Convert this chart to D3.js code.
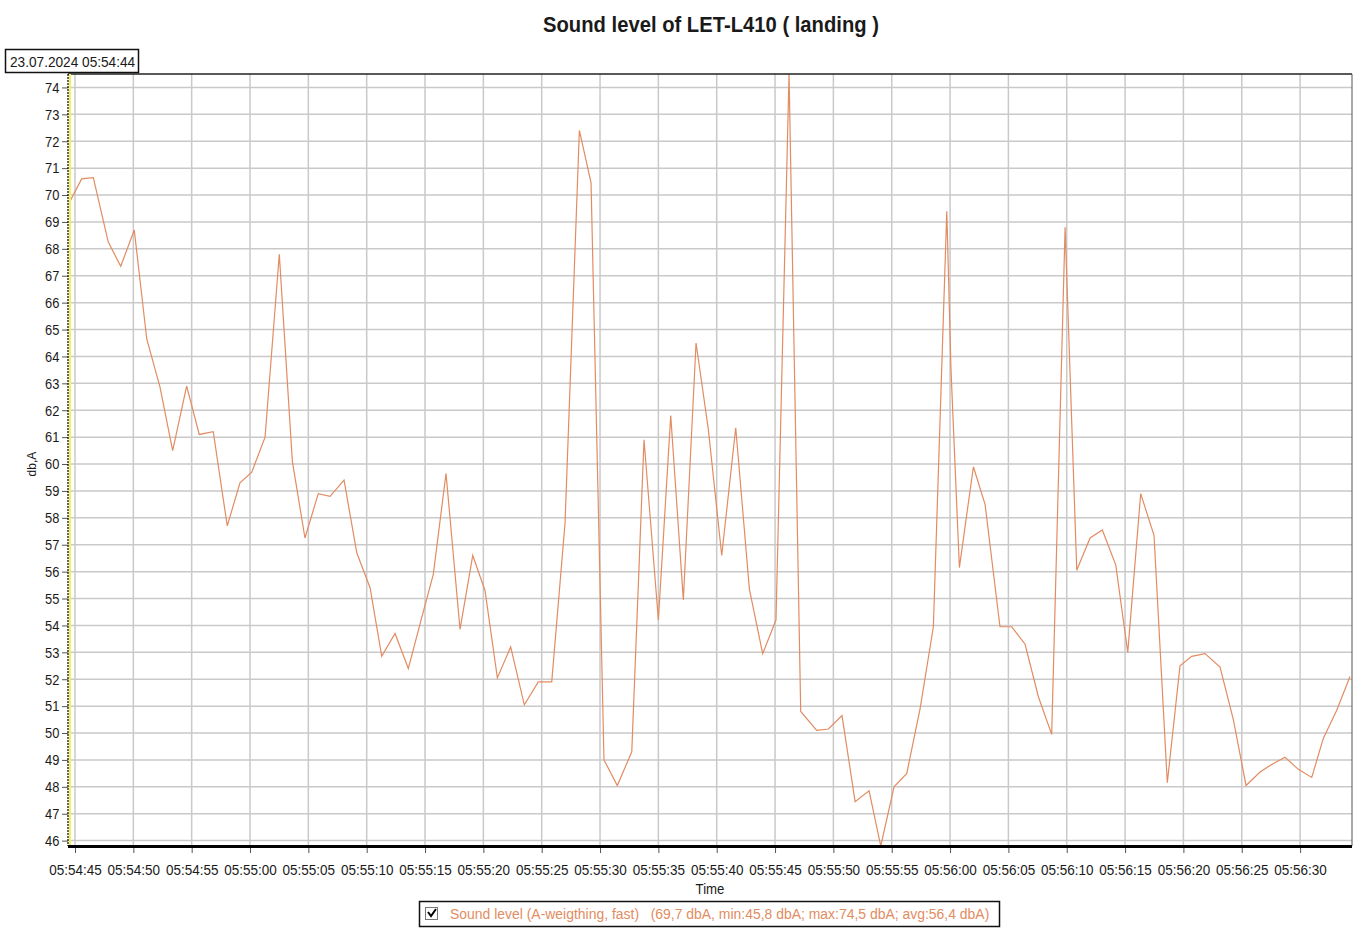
<!DOCTYPE html>
<html>
<head>
<meta charset="utf-8">
<script src="https://cdn.jsdelivr.net/npm/d3@7"></script>
<style>
body { margin: 0; background: #fff; }
text { font-family: "Liberation Sans", Arial, sans-serif; fill: #1a1a1a; }
</style>
</head>
<body>
<script>
//variabili
var width = 1355, height = 929;
var mLeft = 68, mRight = 1352, mTop = 74, mBottom = 846;
var startTime = new Date(2024, 6, 23, 5, 54, 44);

//secondi dopo 05:54:44
var offsets = [0.49, 1.57, 2.57, 3.85, 4.92, 6.08, 7.15, 8.29, 9.37, 10.57,
    11.65, 12.85, 14.05, 15.14, 16.15, 17.29, 18.51, 19.63, 20.71, 21.85,
    22.86, 24.06, 25.15, 26.29, 27.29, 28.43, 29.57, 30.66, 31.71, 32.80,
    34.00, 35.09, 36.14, 37.20, 38.34, 39.51, 40.71, 41.86, 43.00, 44.23,
    45.23, 46.34, 47.48, 48.72, 49.77, 51.00, 52.06, 53.14, 54.23, 55.28,
    56.43, 57.63, 58.80, 59.94, 61.08, 62.20, 63.20, 64.57, 65.57, 66.74,
    67.86, 69.06, 70.06, 71.20, 72.29, 73.43, 74.57, 75.72, 76.08, 76.80,
    78.00, 79.00, 80.28, 81.29, 82.43, 83.57, 84.71, 85.86, 86.86, 88.00,
    89.05, 90.20, 91.23, 92.34, 93.48, 94.62, 95.71, 96.71, 97.85, 99.14,
    100.28, 101.37, 102.57, 103.64, 104.71, 105.85, 107.00, 107.99, 109.14, 110.28];

//livello sonoro dbA
var levels = [69.7, 70.6, 70.65, 68.25, 67.35, 68.7, 64.65, 62.85, 60.5, 62.9,
    61.1, 61.2, 57.7, 59.3, 59.7, 61.0, 67.8, 60.1, 57.25, 58.9,
    58.8, 59.4, 56.7, 55.4, 52.85, 53.7, 52.4, 54.2, 55.9, 59.65,
    53.85, 56.6, 55.3, 52.05, 53.2, 51.05, 51.9, 51.9, 57.8, 72.4,
    70.45, 49.0, 48.05, 49.3, 60.9, 54.2, 61.8, 54.95, 64.5, 61.3,
    56.6, 61.35, 55.35, 52.95, 54.2, 74.5, 50.8, 50.1, 50.15, 50.65,
    47.45, 47.85, 45.8, 48.0, 48.5, 50.9, 53.95, 69.4, 63.5, 56.15,
    59.9, 58.5, 53.95, 53.95, 53.3, 51.35, 49.95, 68.8, 56.05, 57.25,
    57.55, 56.25, 53.0, 58.9, 57.35, 48.15, 52.5, 52.85, 52.95, 52.45,
    50.5, 48.05, 48.55, 48.85, 49.1, 48.65, 48.35, 49.8, 50.85, 52.1];

var yTicks = d3.range(46, 75);
var titleText = "Sound level of LET-L410 ( landing )";
var stampText = "23.07.2024 05:54:44";
var legendText = "Sound level (A-weigthing, fast)   (69,7 dbA, min:45,8 dbA; max:74,5 dbA; avg:56,4 dbA)";

var dati = offsets.map(function (s, i) {
    return { t: new Date(startTime.getTime() + s * 1000), v: levels[i] };
});

var svg = d3.select("body").append("svg")
    .attr("width", width)
    .attr("height", height);

//scale
var xScale = d3.scaleTime()
    .domain([new Date(startTime.getTime() + 400), new Date(startTime.getTime() + 110450)])
    .range([mLeft, mRight]);

var yScale = d3.scaleLinear()
    .domain([45.8, 74.5])
    .range([mBottom, mTop]);

var xTicks = xScale.ticks(d3.timeSecond.every(5));

//griglia
svg.append("g").selectAll("line")
    .data(yTicks).enter().append("line")
    .attr("x1", mLeft).attr("x2", mRight)
    .attr("y1", function (d) { return yScale(d); })
    .attr("y2", function (d) { return yScale(d); })
    .attr("stroke", "#c9c9c9").attr("stroke-width", 1.5);

svg.append("g").selectAll("line")
    .data(xTicks).enter().append("line")
    .attr("x1", function (d) { return xScale(d); })
    .attr("x2", function (d) { return xScale(d); })
    .attr("y1", mTop).attr("y2", mBottom)
    .attr("stroke", "#c9c9c9").attr("stroke-width", 1.5);

//linea
svg.append("clipPath").attr("id", "clip")
    .append("rect").attr("x", mLeft).attr("y", mTop - 1).attr("width", mRight - mLeft).attr("height", mBottom - mTop + 1);

var line = d3.line()
    .x(function (d) { return xScale(d.t); })
    .y(function (d) { return yScale(d.v); });

svg.append("path")
    .datum(dati)
    .attr("clip-path", "url(#clip)")
    .attr("d", line)
    .attr("fill", "none")
    .attr("stroke", "#e28c62")
    .attr("stroke-width", 1.2);

//bordi
svg.append("line").attr("x1", mLeft).attr("x2", mRight).attr("y1", mTop).attr("y2", mTop)
    .attr("stroke", "#222").attr("stroke-width", 1.5);
svg.append("line").attr("x1", mRight).attr("x2", mRight).attr("y1", mTop).attr("y2", mBottom)
    .attr("stroke", "#555").attr("stroke-width", 1);
svg.append("line").attr("x1", mLeft + 2).attr("x2", mLeft + 2).attr("y1", mTop).attr("y2", mBottom)
    .attr("stroke", "#f2f25a").attr("stroke-width", 2);

//assi
var xAxis = d3.axisBottom(xScale)
    .tickValues(xTicks)
    .tickFormat(d3.timeFormat("%H:%M:%S"))
    .tickSize(7)
    .tickPadding(11);

var gx = svg.append("g").attr("transform", "translate(0," + mBottom + ")").call(xAxis);
gx.select(".domain").remove();
gx.selectAll(".tick line").attr("stroke", "#555");
gx.selectAll(".tick text").style("font-size", "15px").attr("fill", "#1a1a1a")
    .attr("transform", "scale(0.9,1)");
svg.append("line").attr("x1", mLeft).attr("x2", mRight).attr("y1", mBottom + 0.5).attr("y2", mBottom + 0.5)
    .attr("stroke", "#000").attr("stroke-width", 3);

var yAxis = d3.axisLeft(yScale)
    .tickValues(yTicks)
    .tickFormat(d3.format("d"))
    .tickSize(6)
    .tickPadding(4);

var gy = svg.append("g").attr("transform", "translate(" + mLeft + ",0)").call(yAxis);
gy.select(".domain").remove();
gy.selectAll(".tick line").attr("stroke", "#555");
gy.selectAll(".tick text").style("font-size", "15px").attr("fill", "#1a1a1a")
    .attr("transform", "scale(0.86,1)");
svg.append("line").attr("x1", mLeft).attr("x2", mLeft).attr("y1", mTop).attr("y2", mBottom)
    .attr("stroke", "#000").attr("stroke-width", 1.2).attr("stroke-dasharray", "2,1");

//titoli
svg.append("text")
    .attr("transform", "translate(711,32) scale(0.92,1)")
    .attr("text-anchor", "middle")
    .style("font-size", "22px").style("font-weight", "bold")
    .text(titleText);

svg.append("text")
    .attr("text-anchor", "middle")
    .attr("transform", "translate(36," + yScale(60) + ") rotate(-90)")
    .style("font-size", "12px")
    .text("db,A");

svg.append("text")
    .attr("transform", "translate(710,894) scale(0.88,1)")
    .attr("text-anchor", "middle")
    .style("font-size", "15px")
    .text("Time");

//etichetta data
svg.append("rect").attr("x", 5.5).attr("y", 49.5).attr("width", 133).attr("height", 23)
    .attr("fill", "#fff").attr("stroke", "#111").attr("stroke-width", 1.5);
svg.append("text").attr("transform", "translate(10,67) scale(0.91,1)")
    .style("font-size", "15px")
    .text(stampText);

//legenda
svg.append("rect").attr("x", 419.5).attr("y", 901.5).attr("width", 580).attr("height", 25)
    .attr("fill", "#fff").attr("stroke", "#111").attr("stroke-width", 1.5);
svg.append("rect").attr("x", 425.5).attr("y", 907.5).attr("width", 12).attr("height", 12)
    .attr("fill", "#fff").attr("stroke", "#777");
svg.append("path").attr("d", "M428,912 L431,916 L436,909")
    .attr("fill", "none").attr("stroke", "#000").attr("stroke-width", 2);
svg.append("text").attr("transform", "translate(450,919) scale(0.9,1)")
    .style("font-size", "15.5px").style("fill", "#e28c62")
    .attr("xml:space", "preserve")
    .text(legendText);
</script>
</body>
</html>
